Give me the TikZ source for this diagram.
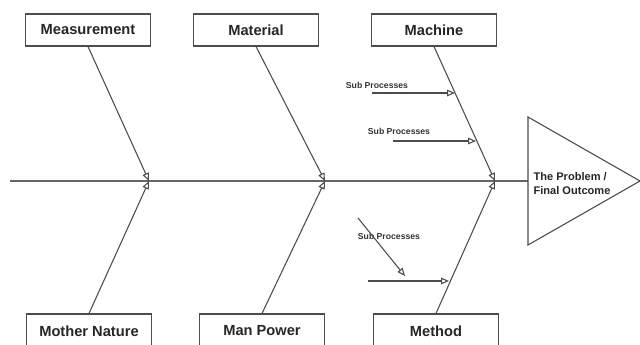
\documentclass[tikz,border=0pt]{standalone}
\usepackage{fontspec}
\setmainfont{Liberation Sans}
\usetikzlibrary{arrows.meta}

\begin{document}
\begin{tikzpicture}[x=0.75pt,y=-0.75pt,line width=0.8pt,draw=black!70,
catbox/.style={draw,rectangle,inner sep=0pt,minimum width=125*0.75pt,minimum height=32*0.75pt,font=\fontsize{11}{13}\selectfont\bfseries,text=black!85},
subtext/.style={font=\fontsize{6.5}{7.5}\selectfont\bfseries,text=black!80,inner sep=0pt},
bone/.style={-{Triangle[open,length=6pt,width=5pt]},draw=black!70}]

\useasboundingbox (0,0) rectangle (640,345);
\clip (0,0) rectangle (640,345);

% categories
\draw (88,30) node[catbox] (meas) {Measurement};
\draw (256,30) node[catbox] (matl) {Material};
\draw (434,30) node[catbox] (mach) {Machine};
\draw (89,331) node[catbox,minimum height=34*0.75pt] (mnat) {Mother Nature};
\draw (262,331) node[catbox,minimum height=34*0.75pt] (mpow) {Man Power};
\draw (436,331) node[catbox,minimum height=34*0.75pt] (meth) {Method};

% spine and outcome
\coordinate (tail) at (10,181);
\coordinate (head) at (528,181);
\coordinate (j1) at (149,181);
\coordinate (j2) at (325,181);
\coordinate (j3) at (495,181);
\draw[black!60] (tail) -- (head);
\draw (head) -- (528,117) -- (640,181) -- (528,245) -- cycle;
\draw (572,184) node[font=\fontsize{8.3}{10.5}\selectfont\bfseries,align=left,text=black!85] (prob) {The Problem /\\Final Outcome};

% main bones
\draw[bone] (meas.south) -- (j1);
\draw[bone] (matl.south) -- (j2);
\draw[bone] (mach.south) -- (j3);
\draw[bone] (mnat.north) -- (j1);
\draw[bone] (mpow.north) -- (j2);
\draw[bone] (meth.north) -- (j3);

% sub processes
\draw (377,85) node[subtext] (sub1) {Sub Processes};
\draw (399,131) node[subtext] (sub2) {Sub Processes};
\draw (389,236) node[subtext] (sub3) {Sub Processes};
\coordinate (s1) at (372,93);
\coordinate (s2) at (393,141);
\coordinate (s3) at (358,218);
\coordinate (s3e) at (405,276);
\coordinate (s4) at (368,281);
\draw[bone] (s1) -- (455,93);
\draw[bone] (s2) -- (476,141);
\draw[bone] (s3) -- (s3e);
\draw[bone] (s4) -- (449,281);
\end{tikzpicture}
\end{document}
